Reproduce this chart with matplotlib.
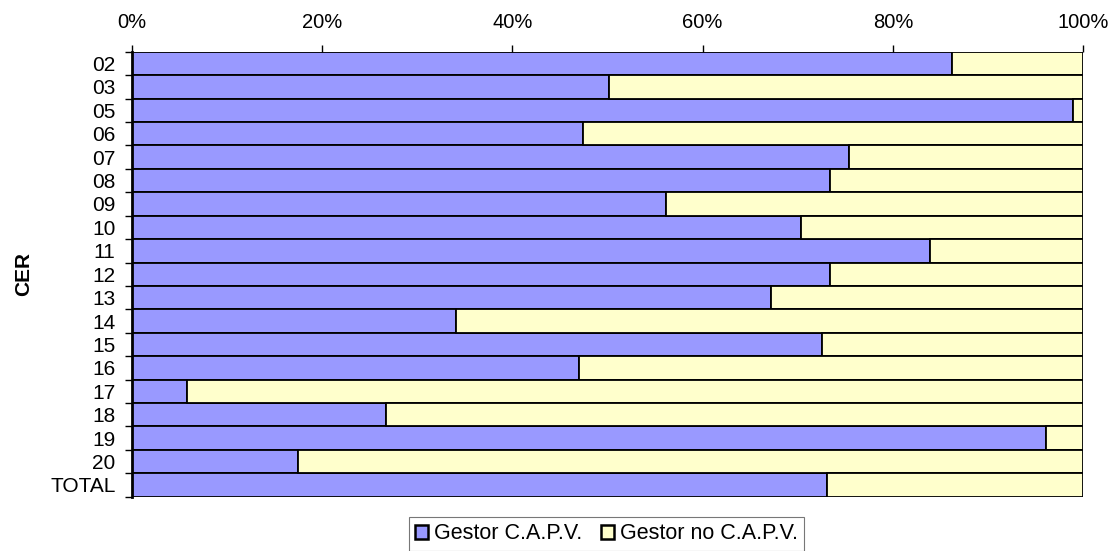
import matplotlib.pyplot as plt
import numpy as np

plt.rcParams['font.family'] = ['Liberation Sans', 'DejaVu Sans']

cer = ['02', '03', '05', '06', '07', '08', '09', '10', '11', '12',
       '13', '14', '15', '16', '17', '18', '19', '20', 'TOTAL']
capv = [86.2, 50.2, 98.9, 47.4, 75.4, 73.4, 56.2, 70.3, 83.9, 73.4,
        67.2, 34.1, 72.5, 47.0, 5.8, 26.7, 96.1, 17.5, 73.1]
no_capv = [100 - v for v in capv]

fig = plt.figure(figsize=(11.15, 5.51), dpi=100)
ax = fig.add_axes([0.118, 0.0986, 0.9716 - 0.118, 0.906 - 0.0986])

y = np.arange(len(cer))
ax.barh(y, capv, height=1.0, color='#9999FF', edgecolor='black', linewidth=1.3,
        label='Gestor C.A.P.V.')
ax.barh(y, no_capv, left=capv, height=1.0, color='#FFFFCC', edgecolor='black',
        linewidth=1.3, label='Gestor no C.A.P.V.')

ax.set_xlim(0, 100)
ax.set_ylim(len(cer) - 0.5, -0.5)

ax.xaxis.tick_top()
ax.set_xticks(np.arange(0, 101, 20))
ax.set_xticklabels(['%d%%' % v for v in range(0, 101, 20)])
ax.tick_params(axis='x', which='major', length=5, width=1, pad=9, labelsize=14.5)

ax.set_yticks(y)
ax.set_yticklabels(cer)
ax.set_yticks(np.arange(len(cer) + 1) - 0.5, minor=True)
ax.tick_params(axis='y', which='major', length=0, pad=11.5, labelsize=15)
ax.tick_params(axis='y', which='minor', length=5, width=1)

for s in ['top', 'right', 'bottom']:
    ax.spines[s].set_visible(False)
ax.spines['left'].set_linewidth(2)

ax.set_ylabel('CER', fontsize=15, fontweight='bold', labelpad=12)

leg = fig.legend(loc='center', bbox_to_anchor=(0.544, 0.031), ncol=2,
                 fontsize=15.5, frameon=True, fancybox=False, edgecolor='#555555',
                 handlelength=0.6, handleheight=0.6, handletextpad=0.25,
                 columnspacing=0.9, borderpad=0.3, borderaxespad=0)
leg.get_frame().set_linewidth(0.8)
for h in leg.legend_handles:
    h.set_linewidth(1.8)

plt.savefig('out.png', dpi=100)
